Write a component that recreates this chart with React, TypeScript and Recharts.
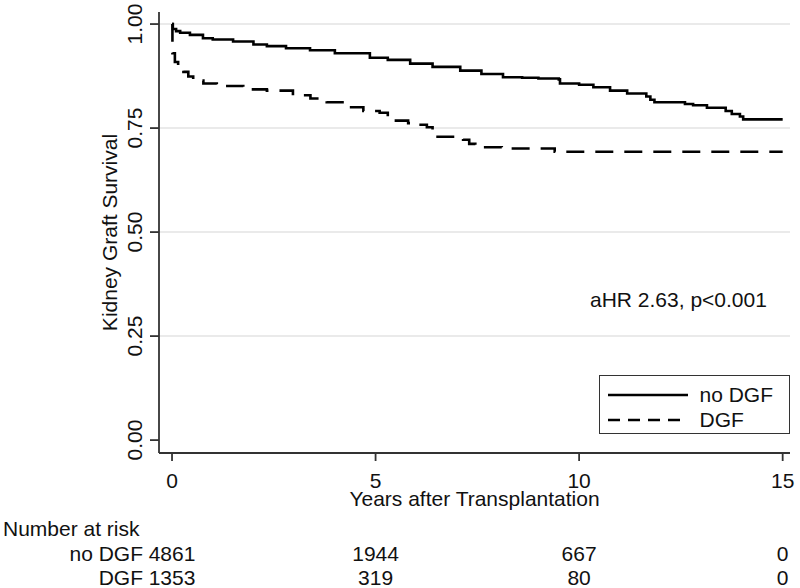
import React from "react";
import {
  LineChart,
  Line,
  XAxis,
  YAxis,
  ReferenceLine,
  Legend,
  Label,
} from "recharts";

// Kaplan-Meier estimates
const noDgfTime = [0, 0.02, 0.1, 0.2, 0.44, 0.76, 1.0, 1.5, 2.0, 2.33, 2.8, 3.39, 4.0, 4.86, 5.3, 5.85, 6.4, 7.08, 7.6, 8.13, 8.6, 9.0, 9.5, 9.53, 10.0, 10.35, 10.76, 11.18, 11.65, 11.75, 11.85, 12.6, 12.8, 13.14, 13.6, 13.75, 13.95, 14.03, 15];
const noDgfSurv = [1.0, 0.988, 0.983, 0.979, 0.974, 0.966, 0.963, 0.958, 0.951, 0.947, 0.942, 0.937, 0.93, 0.919, 0.914, 0.905, 0.897, 0.888, 0.88, 0.872, 0.871, 0.869, 0.867, 0.857, 0.854, 0.848, 0.84, 0.833, 0.826, 0.818, 0.812, 0.808, 0.805, 0.799, 0.791, 0.784, 0.778, 0.771, 0.771];

const dgfTime = [0, 0.01, 0.07, 0.15, 0.28, 0.4, 0.52, 0.77, 1.1, 1.75, 2.33, 2.97, 3.4, 3.8, 4.3, 4.7, 5.1, 5.3, 5.5, 5.8, 6.0, 6.26, 6.4, 7.15, 7.3, 7.45, 8.1, 9.4, 15];
const dgfSurv = [1.0, 0.93, 0.909, 0.897, 0.885, 0.874, 0.864, 0.857, 0.851, 0.843, 0.84, 0.829, 0.821, 0.812, 0.8, 0.791, 0.787, 0.776, 0.768, 0.762, 0.758, 0.752, 0.729, 0.722, 0.712, 0.704, 0.701, 0.693, 0.693];

const seriesNames = ["no DGF", "DGF"];

// number at risk table
const riskTimes = [0, 5, 10, 15];
const noDgfRisk = [4861, 1944, 667, 0];
const dgfRisk = [1353, 319, 80, 0];

const yTicks = [0, 0.25, 0.5, 0.75, 1];
const gridValues = [0.25, 0.5, 0.75, 1];

const noDgfData = noDgfTime.map((t, i) => ({ t, s: noDgfSurv[i] }));
const dgfData = dgfTime.map((t, i) => ({ t, s: dgfSurv[i] }));

const FONT = "'Liberation Sans', Arial, sans-serif";
const FS = 21;
const AXIS = "#333";
const TXT = "#111";
const dashFor: Record<string, string | undefined> = { "no DGF": undefined, DGF: "12 8" };

const YTick = (props: any) => {
  const { x, y, payload } = props;
  return (
    <text x={x} y={y} transform={`rotate(-90, ${x}, ${y})`} textAnchor="middle" fontSize={FS} fontFamily={FONT} fill={TXT}>
      {payload.value.toFixed(2)}
    </text>
  );
};

// x tick label plus the number-at-risk rows underneath it
const XTick = (props: any) => {
  const { x, y, payload } = props;
  const idx = riskTimes.indexOf(payload.value);
  const rows = [
    { name: seriesNames[0], counts: noDgfRisk, dy: 73 },
    { name: seriesNames[1], counts: dgfRisk, dy: 97 },
  ];
  return (
    <g fontSize={FS} fontFamily={FONT} fill={TXT}>
      <text x={x} y={y} dy="0.71em" textAnchor="middle">
        {payload.value}
      </text>
      {rows.map((r) => (
        <g key={r.name}>
          {idx === 0 && (
            <text x={x - 29} y={y + r.dy} dy="0.71em" textAnchor="end">
              {r.name}
            </text>
          )}
          <text x={x} y={y + r.dy} dy="0.71em" textAnchor="middle">
            {r.counts[idx]}
          </text>
        </g>
      ))}
    </g>
  );
};

const LegendBox = ({ payload }: any) => {
  const items = [...(payload || [])].sort(
    (a: any, b: any) => seriesNames.indexOf(a.value) - seriesNames.indexOf(b.value)
  );
  return (
    <div
      style={{
        width: 191,
        height: 59,
        boxSizing: "border-box",
        border: `1.5px solid ${AXIS}`,
        background: "#fff",
        padding: "6px 0 0 7.5px",
        fontFamily: FONT,
      }}
    >
      {items.map((entry: any) => (
        <div key={entry.value} style={{ display: "flex", alignItems: "center", height: 25 }}>
          <svg width={80} height={10}>
            <line x1={0} y1={5} x2={80} y2={5} stroke="#000" strokeWidth={2.5} strokeDasharray={dashFor[entry.value]} />
          </svg>
          <span style={{ marginLeft: 12, fontSize: FS, color: TXT }}>{entry.value}</span>
        </div>
      ))}
    </div>
  );
};

export default function App() {
  return (
    <div style={{ position: "absolute", left: 0, top: 0, width: 800, height: 588, background: "#fff" }}>
      <LineChart width={800} height={588} margin={{ top: 12, right: 10, left: 99, bottom: 80 }}>
        {gridValues.map((v) => (
          <ReferenceLine key={v} y={v} stroke="#e3e3e3" strokeWidth={1.5} />
        ))}
        <XAxis
          dataKey="t"
          type="number"
          domain={[-0.32, 15.18]}
          ticks={riskTimes}
          height={55}
          tickSize={8}
          tickMargin={12}
          stroke={AXIS}
          strokeWidth={1.8}
          tick={<XTick />}
        >
          <Label
            content={({ viewBox }: any) => (
              <text x={viewBox.x + viewBox.width / 2} y={viewBox.y + 53} textAnchor="middle" fontSize={FS} fontFamily={FONT} fill={TXT}>
                Years after Transplantation
              </text>
            )}
          />
        </XAxis>
        <YAxis
          type="number"
          domain={[-0.031, 1.029]}
          ticks={yTicks}
          width={60}
          tickSize={9}
          tickMargin={8}
          stroke={AXIS}
          strokeWidth={1.8}
          tick={<YTick />}
        >
          <Label
            content={({ viewBox }: any) => {
              const x = viewBox.x + 18;
              const y = viewBox.y + viewBox.height / 2;
              return (
                <text x={x} y={y} transform={`rotate(-90, ${x}, ${y})`} textAnchor="middle" fontSize={FS} fontFamily={FONT} fill={TXT}>
                  Kidney Graft Survival
                </text>
              );
            }}
          />
        </YAxis>
        <Legend
          layout="vertical"
          align="center"
          verticalAlign="middle"
          content={<LegendBox />}
          wrapperStyle={{ position: "absolute", left: 599, top: 375, width: 191, height: 59 }}
        />
        <Line
          data={noDgfData}
          dataKey="s"
          name={seriesNames[0]}
          type="stepAfter"
          stroke="#000"
          strokeWidth={2.6}
          dot={false}
          activeDot={false}
          isAnimationActive={false}
        />
        <Line
          data={dgfData}
          dataKey="s"
          name={seriesNames[1]}
          type="stepAfter"
          stroke="#000"
          strokeWidth={2.6}
          strokeDasharray="18 11"
          dot={false}
          activeDot={false}
          isAnimationActive={false}
        />
      </LineChart>
      <svg width={800} height={588} style={{ position: "absolute", left: 0, top: 0, pointerEvents: "none" }}>
        <text x={590} y={307} fontSize={FS} fontFamily={FONT} fill={TXT}>
          aHR 2.63, p&lt;0.001
        </text>
        <text x={3} y={536} fontSize={FS} fontFamily={FONT} fill={TXT}>
          Number at risk
        </text>
      </svg>
    </div>
  );
}
